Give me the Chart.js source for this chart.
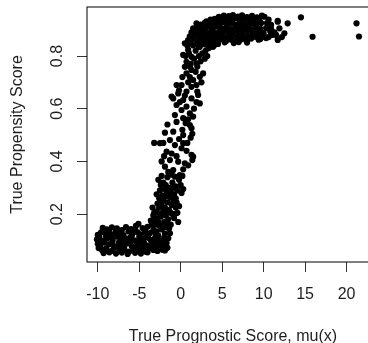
<!DOCTYPE html>
<html>
<head>
<meta charset="utf-8">
<script src="https://cdn.jsdelivr.net/npm/chart.js@4.4.1/dist/chart.umd.min.js"></script>
<style>
html, body { margin: 0; padding: 0; overflow: hidden; background: #fff; width: 368px; height: 343px; }
canvas { display: block; }
</style>
</head>
<body>
<canvas id="c" width="382" height="343"></canvas>
<script>
// ---- data ----
const xTicks = [-10, -5, 0, 5, 10, 15, 20];
const yTicks = [0.2, 0.4, 0.6, 0.8];
const xTitle = "True Prognostic Score, mu(x)";
const yTitle = "True Propensity Score";

const lowCluster = [
[-10.0,0.121],[-10.1,0.104],[-10.0,0.087],[-9.9,0.071],[-9.8,0.112],[-9.7,0.081],[-9.6,0.131],[-9.5,0.064],[-9.4,0.148],[-9.3,0.098],
[-9.3,0.052],[-9.2,0.092],[-9.1,0.127],[-9.0,0.069],[-8.9,0.142],[-8.8,0.109],[-8.7,0.085],[-8.6,0.133],[-8.6,0.055],[-8.5,0.118],
[-8.4,0.060],[-8.3,0.150],[-8.2,0.103],[-8.1,0.079],[-8.0,0.124],[-7.9,0.072],[-7.8,0.137],[-7.8,0.050],[-7.7,0.146],[-7.6,0.114],
[-7.5,0.091],[-7.4,0.129],[-7.3,0.063],[-7.2,0.097],[-7.1,0.139],[-7.1,0.054],[-7.0,0.083],[-6.9,0.120],[-6.8,0.068],[-6.7,0.108],
[-6.6,0.151],[-6.5,0.088],[-6.4,0.049],[-6.4,0.097],[-6.3,0.134],[-6.2,0.058],[-6.1,0.111],[-6.0,0.143],[-5.9,0.078],[-5.8,0.126],
[-5.7,0.070],[-5.6,0.100],[-5.5,0.141],[-5.5,0.053],[-5.4,0.155],[-5.3,0.094],[-5.2,0.131],[-5.1,0.062],[-5.1,0.163],[-5.0,0.113],
[-4.9,0.084],[-4.8,0.123],[-4.8,0.050],[-4.6,0.147],[-4.6,0.066],[-4.5,0.105],[-4.4,0.090],[-4.3,0.136],[-4.2,0.057],[-4.2,0.075],
[-4.1,0.116],[-4.0,0.152],[-4.0,0.055],[-3.9,0.080],[-3.8,0.071],[-3.7,0.128],[-3.6,0.101],[-3.5,0.160],[-3.5,0.085],[-3.4,0.093],
[-3.3,0.140],[-3.3,0.064],[-3.2,0.172],[-3.1,0.109],[-3.0,0.072],[-2.9,0.135],[-2.9,0.087],[-2.7,0.118],[-2.6,0.098],[-2.4,0.080],
[-2.2,0.065],[-2.0,0.110],[-1.9,0.126],[-1.7,0.090],[-1.6,0.072],[-1.5,0.108],[-1.3,0.127],[-1.4,0.145],[-1.8,0.150],[-2.3,0.142],
[-2.6,0.158],[-9.8,0.095],[-9.0,0.115],[-8.3,0.090],[-7.6,0.075],[-6.9,0.100],[-6.1,0.092],[-5.3,0.077],[-4.7,0.098],[-3.9,0.110],
[-3.0,0.122],[-2.2,0.095],[-8.9,0.060],[-7.3,0.108],[-5.9,0.118],[-4.4,0.068],[-2.8,0.060],[-2.1,0.080],[-1.9,0.062]
];

const risingPart = [
[-3.6,0.175],[-3.3,0.195],[-3.0,0.185],[-2.9,0.210],[-2.7,0.170],[-2.6,0.225],[-2.4,0.190],[-2.3,0.240],[-2.2,0.205],[-2.0,0.170],
[-1.9,0.225],[-1.8,0.195],[-1.6,0.245],[-1.5,0.180],[-1.4,0.215],[-1.2,0.160],[-1.1,0.235],[-1.0,0.200],[-0.9,0.250],[-0.8,0.185],
[-0.6,0.225],[-0.5,0.245],[-0.3,0.170],[-2.5,0.155],[-1.7,0.160],[-3.1,0.160],[-3.4,0.225],[-2.1,0.255],[-0.4,0.205],[-1.3,0.265],
[-2.8,0.240],[-2.0,0.215],[-1.2,0.205],[-0.7,0.200],[-2.5,0.200],[-1.6,0.210],[-3.2,0.205],[-1.0,0.265],[-2.6,0.260],[-0.2,0.230],
[-2.9,0.275],[-2.7,0.330],[-2.5,0.290],[-2.4,0.310],[-2.2,0.270],[-2.1,0.320],[-1.9,0.295],[-1.7,0.280],[-1.6,0.340],[-1.4,0.300],
[-1.2,0.285],[-1.0,0.320],[-0.8,0.275],[-0.6,0.305],[-0.4,0.290],[-0.2,0.330],[0.1,0.280],[0.3,0.295],[0.2,0.345],[-1.1,0.350],
[-2.3,0.345],[-0.6,0.260],[-1.8,0.310],[-0.9,0.300],[-2.0,0.265],[0.0,0.310],[-1.5,0.270],
[-1.9,0.380],[-0.9,0.367],[-0.1,0.348],[-0.7,0.342],[-1.3,0.405],[-0.3,0.399],[0.5,0.393],[1.5,0.418],[-1.7,0.437],[0.1,0.450],
[-2.3,0.400],[0.9,0.385],[1.3,0.425],[-2.0,0.420],[-1.1,0.430],[-0.5,0.420],[0.7,0.440],[-1.5,0.360],[0.3,0.370],[1.4,0.405],
[-0.5,0.550],[1.1,0.538],[1.3,0.526],[-1.9,0.509],[-0.9,0.513],[0.3,0.500],[-2.5,0.469],[-1.3,0.481],[-0.7,0.462],[0.3,0.469],
[-3.2,0.470],[-2.1,0.470],[0.2,0.520],[1.2,0.490],[1.4,0.505],[-0.2,0.485],[0.8,0.470],[-1.6,0.540],[0.6,0.545],
[-0.7,0.576],[1.1,0.582],[0.3,0.564],[0.1,0.595],[-0.5,0.614],[0.7,0.608],[-0.9,0.639],[0.3,0.633],[1.3,0.639],[-0.3,0.658],
[2.1,0.652],[-1.1,0.646],[1.6,0.600],[1.9,0.625],[0.9,0.560],[1.5,0.570],[-0.1,0.625],[2.3,0.620],[0.5,0.650],
[0.1,0.690],[1.3,0.683],[0.7,0.665],[1.5,0.709],[2.3,0.721],[2.7,0.734],[0.7,0.734],[1.3,0.747],[0.5,0.759],[-0.5,0.690],
[0.9,0.700],[1.9,0.690],[2.5,0.700],[1.8,0.740],[0.2,0.720],[1.1,0.720],[-0.2,0.670],[2.0,0.665],
[0.5,0.848],[0.9,0.823],[0.3,0.804],[1.3,0.797],[0.7,0.778],[1.9,0.772],[1.2,0.770],[1.6,0.790],[2.2,0.800],[2.6,0.810],
[3.0,0.820],[3.4,0.830],[2.4,0.780],[2.9,0.790],[1.0,0.810],[1.8,0.820],[2.3,0.835],[0.8,0.840],[1.5,0.840],[2.8,0.845],
[3.2,0.800],[2.0,0.760],[1.1,0.760],[0.6,0.800],[3.6,0.845],[3.9,0.835],[4.2,0.845]
];

const upperCluster = [
[4.6,0.949],[5.2,0.953],[5.8,0.951],[6.3,0.955],[6.9,0.950],[7.4,0.954],[8.0,0.948],[8.6,0.952],[9.2,0.947],[9.8,0.953],
[3.1,0.932],[3.6,0.938],[4.1,0.941],[4.7,0.935],[5.3,0.940],[5.9,0.937],[6.5,0.942],[7.1,0.936],[7.7,0.940],[8.3,0.934],
[8.9,0.939],[9.5,0.935],[10.6,0.938],
[1.9,0.924],[2.4,0.919],[2.9,0.926],[3.4,0.921],[4.0,0.925],[4.5,0.918],[5.0,0.927],[5.6,0.921],[6.2,0.924],[6.8,0.919],
[7.4,0.926],[7.9,0.920],[8.5,0.923],[9.1,0.918],[9.7,0.925],
[1.5,0.905],[2.0,0.910],[2.6,0.904],[3.1,0.909],[3.7,0.903],[4.3,0.911],[4.9,0.905],[5.5,0.908],[6.0,0.902],[6.6,0.910],
[7.2,0.904],[7.8,0.907],[8.4,0.901],[9.0,0.909],[9.6,0.903],[10.3,0.906],
[1.3,0.890],[1.8,0.895],[2.3,0.889],[2.8,0.894],[3.3,0.887],[3.9,0.893],[4.5,0.888],[5.1,0.895],[5.7,0.890],[6.3,0.886],
[6.9,0.893],[7.5,0.889],[8.1,0.895],[8.7,0.888],[9.3,0.892],[10.0,0.887],[10.8,0.893],
[1.1,0.875],[1.6,0.880],[2.1,0.874],[2.7,0.879],[3.2,0.872],[3.8,0.878],[4.4,0.874],[5.0,0.880],[5.6,0.873],[6.2,0.877],
[6.8,0.871],[7.4,0.879],[8.0,0.874],[8.6,0.878],[9.2,0.872],[9.9,0.876],[11.0,0.880],[12.2,0.872],
[0.9,0.860],[1.4,0.865],[2.0,0.858],[2.6,0.863],[3.2,0.857],[3.7,0.864],[4.3,0.859],[4.9,0.865],[5.5,0.858],[6.1,0.862],
[6.7,0.856],[7.3,0.864],[7.9,0.859],[8.5,0.866],[9.4,0.862],[10.3,0.868],
[1.2,0.848],[1.9,0.845],[2.5,0.850],[3.1,0.843],[3.7,0.849],[4.5,0.846],[5.3,0.852],[6.4,0.849],[7.0,0.853],[8.0,0.851],
[2.2,0.835],[3.4,0.838],[4.0,0.840],
[2.2,0.900],[3.5,0.915],[4.8,0.896],[6.0,0.930],[7.0,0.885],[8.2,0.915],[5.3,0.868],[3.0,0.884],[4.2,0.928],[6.5,0.898],
[7.6,0.868],[2.5,0.868],[5.8,0.945],[7.3,0.912],[4.0,0.866],[9.1,0.930],[10.4,0.925],[10.9,0.903],[11.3,0.890],[10.6,0.872],
[9.6,0.865],[9.5,0.880],[10.7,0.911],[11.5,0.880]
];

const outliers = [
[14.5,0.947],[15.9,0.873],[21.2,0.924],[21.5,0.874],[12.9,0.924],[11.7,0.933],[12.5,0.886],[11.9,0.905],[11.7,0.861],
[10.1,0.949],[10.9,0.918],[8.9,0.873],[10.1,0.873],[11.7,0.930]
];

const allPoints = [].concat(lowCluster, risingPart, upperCluster, outliers);

// ---- chart ----
const FONT = "'Liberation Sans', Arial, Helvetica, sans-serif";
const TEXT = '#1e1e1e';

const rBase = {
  id: 'rBase',
  afterDraw(chart) {
    const ctx = chart.ctx;
    const a = chart.chartArea;
    ctx.save();
    // box
    ctx.strokeStyle = '#000';
    ctx.lineWidth = 1;
    ctx.strokeRect(a.left, a.top, a.right - a.left, a.bottom - a.top);
    // y tick labels (parallel to axis)
    ctx.fillStyle = TEXT;
    ctx.font = '16px ' + FONT;
    ctx.textAlign = 'center';
    ctx.textBaseline = 'alphabetic';
    const ys = chart.scales.y;
    yTicks.forEach(v => {
      const py = ys.getPixelForValue(v);
      ctx.save();
      ctx.translate(a.left - 25.5, py);
      ctx.rotate(-Math.PI / 2);
      ctx.fillText(v.toFixed(1), 0, 0);
      ctx.restore();
    });
    // axis titles
    ctx.fillText(xTitle, (a.left + a.right) / 2, 340.5);
    ctx.save();
    ctx.translate(22, (a.top + a.bottom) / 2);
    ctx.rotate(-Math.PI / 2);
    ctx.fillText(yTitle, 0, 0);
    ctx.restore();
    ctx.restore();
  }
};

new Chart(document.getElementById('c'), {
  type: 'scatter',
  data: {
    datasets: [{
      data: allPoints.map(p => ({ x: p[0], y: p[1] })),
      pointRadius: 3.1,
      pointBackgroundColor: '#000',
      pointBorderWidth: 0,
      pointHoverRadius: 3.1
    }]
  },
  options: {
    responsive: false,
    devicePixelRatio: 1,
    animation: false,
    layout: { padding: { top: 7, right: 2, left: 0, bottom: 0 } },
    plugins: { legend: { display: false }, tooltip: { enabled: false } },
    events: [],
    scales: {
      x: {
        type: 'linear',
        min: -11.3,
        max: 23.9,
        afterBuildTicks: s => { s.ticks = xTicks.map(v => ({ value: v })); },
        afterFit: s => { s.height = 81; },
        border: { display: false },
        grid: { drawOnChartArea: false, drawTicks: true, tickLength: 10, color: '#333', lineWidth: 1 },
        ticks: { color: TEXT, font: { family: FONT, size: 16 }, padding: 13, maxRotation: 0, autoSkip: false,
                 callback: v => String(v) }
      },
      y: {
        type: 'linear',
        min: 0.0182,
        max: 0.986,
        afterBuildTicks: s => { s.ticks = yTicks.map(v => ({ value: v })); },
        afterFit: s => { s.width = 87; },
        border: { display: false },
        grid: { drawOnChartArea: false, drawTicks: true, tickLength: 10, color: '#333', lineWidth: 1 },
        ticks: { display: false }
      }
    }
  },
  plugins: [rBase]
});
</script>
</body>
</html>
